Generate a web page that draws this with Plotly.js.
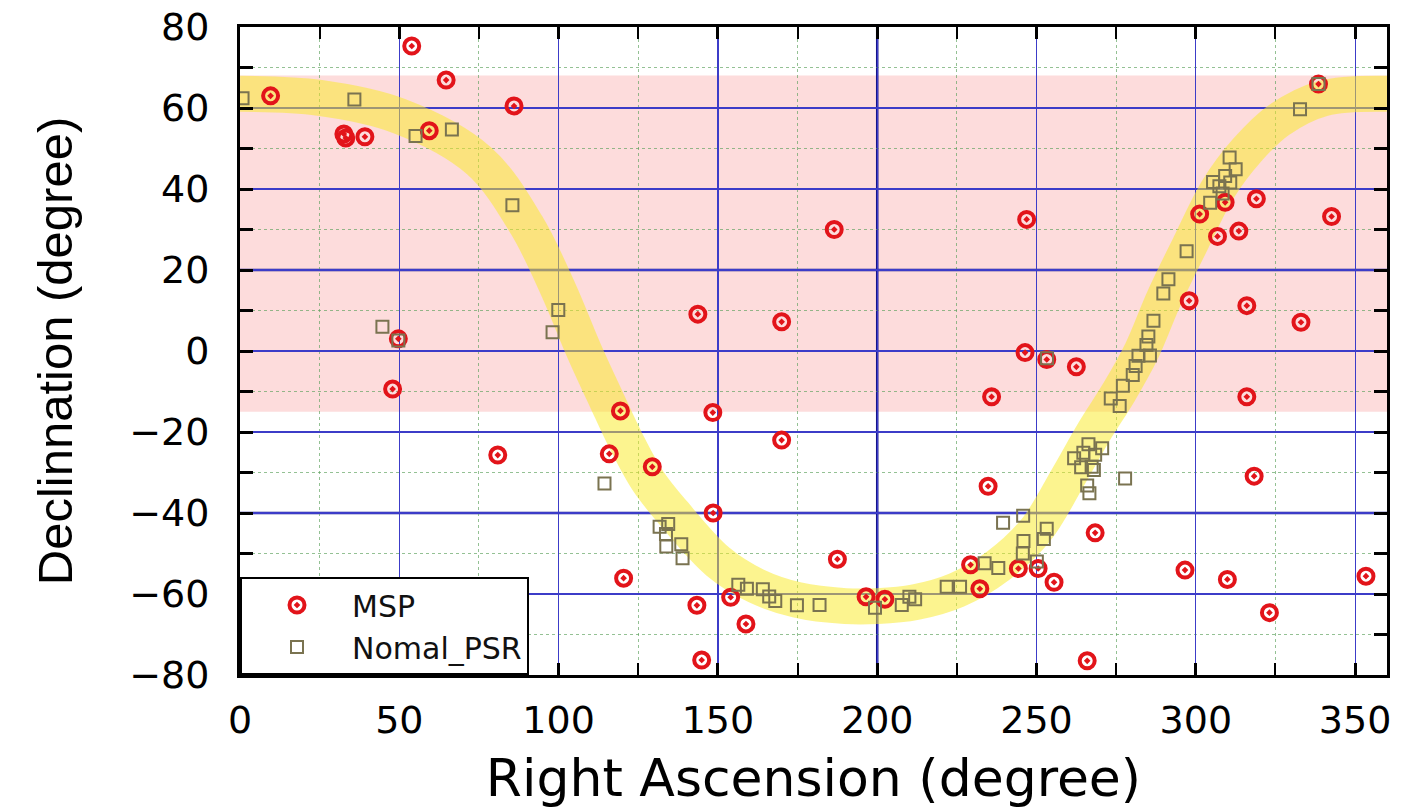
<!DOCTYPE html>
<html>
<head>
<meta charset="utf-8">
<script src="https://cdn.plot.ly/plotly-3.0.1.min.js"></script>
<style>html,body{margin:0;padding:0;background:#fff;}#chart{width:1419px;height:810px;}</style>
</head>
<body>
<div id="chart"></div>
<script>
// MSP positions (Right Ascension, Declination) in degrees
var msp_ra  = [9.6, 53.9, 64.7, 86.0, 32.6, 33.2, 39.2, 59.4, 49.7, 47.9, 80.9, 119.4, 115.9, 120.4,
               186.5, 143.7, 170.0, 148.4, 170.0, 129.4, 148.5, 187.5, 143.4, 154.0, 158.8, 144.9, 196.5, 202.4,
               235.9, 234.8, 229.3, 232.2, 246.9, 338.5, 319.0, 309.2, 301.2, 342.6, 306.8, 313.5, 297.9, 316.0,
               333.0, 246.4, 253.2, 262.5, 316.0, 318.3, 268.4, 244.3, 250.5, 255.5, 296.6, 309.9, 323.1, 353.4, 265.9];
var msp_dec = [63.0, 75.3, 66.9, 60.5, 53.6, 52.6, 52.9, 54.4, 3.0, -9.4, -25.7, -14.8, -25.4, -56.1,
               30.0, 9.1, 7.2, -15.2, -22.0, -28.6, -40.0, -51.4, -62.8, -60.8, -67.4, -76.3, -60.7, -61.3,
               -11.3, -33.4, -52.8, -58.7, 32.5, 65.9, 37.6, 36.7, 33.8, 33.2, 28.3, 29.6, 12.4, 11.2,
               7.1, -0.4, -2.1, -3.9, -11.3, -30.9, -44.9, -53.7, -53.7, -57.1, -54.1, -56.4, -64.6, -55.6, -76.5];

// Normal pulsar positions
var psr_ra  = [0.8, 35.9, 55.1, 66.5, 85.5, 44.7, 49.7, 99.9, 98.1, 114.4,
               131.7, 134.4, 133.7, 133.8, 138.5, 138.9,
               156.4, 159.1, 164.1, 166.1, 168.0, 174.8, 181.9,
               199.3, 207.7, 210.1, 211.9, 221.8, 226.0,
               233.7, 238.0, 239.5, 245.8, 253.2, 252.3, 245.9, 245.7, 250.1,
               253.3,
               261.8, 264.7, 266.3, 270.6, 268.4, 264.0, 267.3, 268.0, 265.9, 266.6, 277.8,
               273.3, 276.1, 277.1, 280.2, 281.1, 282.0, 285.6, 284.5, 285.1, 286.7, 289.8, 291.4, 297.1,
               304.5, 308.4, 307.4, 305.4, 310.8, 309.2, 312.5, 310.6,
               332.7, 338.5];
var psr_dec = [62.4, 62.1, 53.1, 54.7, 36.0, 6.0, 2.6, 10.1, 4.6, -32.7,
               -43.4, -42.7, -45.2, -48.3, -47.7, -51.2,
               -57.7, -58.7, -58.8, -60.6, -61.7, -62.8, -62.7,
               -63.4, -62.7, -60.7, -61.3, -58.2, -58.2,
               -52.4, -53.6, -42.4, -40.7, -43.9, -46.4, -46.9, -50.0, -52.0,
               -1.8,
               -26.5, -25.1, -23.0, -24.0, -25.6, -28.7, -28.6, -29.4, -33.2, -35.1, -31.5,
               -11.7, -13.6, -8.6, -5.9, -3.7, -1.2, -1.1, 1.5, 3.6, 7.5, 14.2, 17.7, 24.6,
               36.6, 38.9, 40.7, 41.7, 41.6, 43.2, 44.9, 47.8,
               59.7, 65.9];

// Centre line of the broad yellow band
var band_ra  = [0, 25, 50, 75, 90, 100, 108, 115, 121, 128, 136, 150, 162, 175, 190, 200, 212, 225, 238, 250,
                260, 268, 276, 283, 290, 298, 307, 316, 326, 340, 360];
var band_dec = [63.5, 62.5, 58, 47, 31, 15, 0, -12, -22, -32, -40, -52, -58, -61.5, -63, -63, -62, -59, -53, -44,
                -31, -20, -10, 0, 13, 26, 40, 49.5, 57, 62.4, 63.5];

// Shaded declination zone
var zone_dec = [-15, 68];
// Emphasised grid lines
var emph_x = [200];
var emph_y = [20, -40];

var WIDEFONT = 'DejaVu Sans, Liberation Sans, Arial, sans-serif';
var SANS = 'Liberation Sans, Arial, sans-serif';

var traces = [
  {
    x: band_ra, y: band_dec, type: 'scatter', mode: 'lines',
    line: {color: 'rgba(250,234,40,0.52)', width: 36, shape: 'spline', smoothing: 1},
    hoverinfo: 'skip', showlegend: false
  },
  {
    x: msp_ra, y: msp_dec, type: 'scatter', mode: 'markers', name: 'MSP',
    marker: {symbol: 'circle-open-dot', size: 15, color: '#e2141a', line: {color: '#e2141a', width: 4}}
  },
  {
    x: psr_ra, y: psr_dec, type: 'scatter', mode: 'markers', name: 'Nomal_PSR',
    marker: {symbol: 'square-open', size: 12, color: '#7a7350', line: {color: '#7a7350', width: 2}}
  }
];

var shapes = [{
  type: 'rect', xref: 'paper', yref: 'y', x0: 0, x1: 1, y0: zone_dec[0], y1: zone_dec[1],
  fillcolor: '#fddcdc', line: {width: 0}, layer: 'below'
}];
emph_x.forEach(function (v) {
  shapes.push({type: 'line', xref: 'x', yref: 'paper', x0: v, x1: v, y0: 0, y1: 1,
               line: {color: '#14148c', width: 2.5}, layer: 'between'});
});
emph_y.forEach(function (v) {
  shapes.push({type: 'line', xref: 'paper', yref: 'y', x0: 0, x1: 1, y0: v, y1: v,
               line: {color: '#14148c', width: 2.5}, layer: 'between'});
});

var layout = {
  width: 1419, height: 810,
  margin: {l: 240, r: 32, t: 27, b: 135},
  paper_bgcolor: '#ffffff', plot_bgcolor: '#ffffff',
  font: {family: WIDEFONT, color: '#000'},
  showlegend: true,
  legend: {
    x: 0, y: 0, xanchor: 'left', yanchor: 'bottom',
    bgcolor: '#ffffff', bordercolor: '#000', borderwidth: 2,
    font: {family: WIDEFONT, size: 30, color: '#111'},
    itemwidth: 100, tracegroupgap: 0
  },
  xaxis: {
    range: [0, 360], dtick: 50, tick0: 0,
    ticks: 'inside', ticklen: 12, tickwidth: 3, tickcolor: '#000',
    showline: true, linecolor: '#000', linewidth: 3, mirror: 'allticks',
    showgrid: true, gridcolor: '#3c3cc8', gridwidth: 1.2,
    zeroline: false,
    tickfont: {family: WIDEFONT, size: 38, color: '#000'},
    ticklabelstandoff: 9,
    minor: {dtick: 25, ticks: 'inside', ticklen: 12, tickwidth: 2, tickcolor: '#000',
            showgrid: true, gridcolor: 'rgba(90,160,90,0.65)', griddash: 'dot', gridwidth: 1},
    title: {text: 'Right Ascension (degree)', font: {family: WIDEFONT, size: 52, color: '#000'}, standoff: 20}
  },
  yaxis: {
    range: [-80, 80], dtick: 20, tick0: 0,
    ticks: 'inside', ticklen: 13, tickwidth: 3, tickcolor: '#000',
    showline: true, linecolor: '#000', linewidth: 3, mirror: 'allticks',
    showgrid: true, gridcolor: '#3c3cc8', gridwidth: 1.2,
    zeroline: false,
    tickfont: {family: WIDEFONT, size: 38, color: '#000'},
    ticklabelstandoff: 20,
    minor: {dtick: 10, ticks: 'inside', ticklen: 13, tickwidth: 3, tickcolor: '#000',
            showgrid: true, gridcolor: 'rgba(90,160,90,0.65)', griddash: 'dot', gridwidth: 1},
    title: {text: 'Declinnation (degree)', font: {family: SANS, size: 49, color: '#000'}, standoff: 42}
  },
  shapes: shapes
};

Plotly.newPlot('chart', traces, layout, {displayModeBar: false, staticPlot: true});
</script>
</body>
</html>
